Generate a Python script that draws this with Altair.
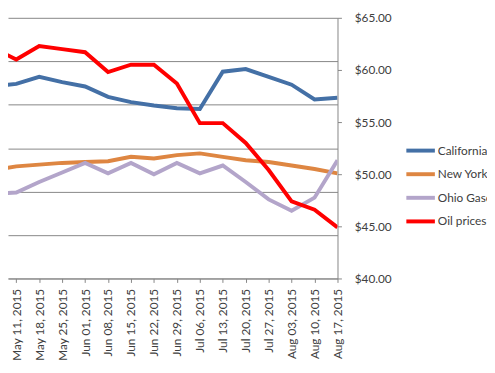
import altair as alt
import pandas as pd

# ---- data ----
dates = ["2015-05-04", "2015-05-11", "2015-05-18", "2015-05-25", "2015-06-01",
         "2015-06-08", "2015-06-15", "2015-06-22", "2015-06-29", "2015-07-06",
         "2015-07-13", "2015-07-20", "2015-07-27", "2015-08-03", "2015-08-10",
         "2015-08-17"]
series_names = ["California", "New York", "Ohio Gasoline", "Oil prices"]
california = [3.71, 3.74, 3.82, 3.76, 3.71, 3.59, 3.53, 3.49, 3.46, 3.45,
              3.88, 3.91, 3.82, 3.73, 3.56, 3.58]
new_york = [2.75, 2.79, 2.81, 2.83, 2.84, 2.85, 2.90, 2.88, 2.92, 2.94,
            2.90, 2.86, 2.84, 2.80, 2.76, 2.71]
ohio = [2.47, 2.49, 2.61, 2.72, 2.83, 2.71, 2.83, 2.70, 2.83, 2.71,
        2.80, 2.61, 2.41, 2.28, 2.43, 2.86]
oil = [62.1, 61.0, 62.3, 62.0, 61.7, 59.8, 60.5, 60.5, 58.7, 54.9,
       54.9, 53.0, 50.4, 47.4, 46.6, 44.9]
gas_ticks = [1.5, 2.0, 2.5, 3.0, 3.5, 4.0, 4.5]
oil_ticks = [40, 45, 50, 55, 60, 65]

# ---- tables ----
stamps = [d + "T00:00:00" for d in dates]
gas_df = pd.DataFrame({
    "date": stamps * 3,
    "series": [series_names[0]] * len(dates) + [series_names[1]] * len(dates)
              + [series_names[2]] * len(dates),
    "price": california + new_york + ohio,
})
oil_df = pd.DataFrame({"date": stamps, "series": series_names[3], "price": oil})
legend_df = pd.DataFrame({"series": series_names})


def dt(s):
    y, m, d = (int(v) for v in s.split("-"))
    return alt.DateTime(year=y, month=m, date=d)


GRID = "#868686"
TEXT = "#404040"
FONT = "Lato"

color = alt.Color("series:N", legend=None,
                  scale=alt.Scale(domain=series_names,
                                  range=["#4470A6", "#DE8642", "#B3A5CA", "#FF0000"]))
width = alt.StrokeWidth("series:N", legend=None,
                        scale=alt.Scale(domain=series_names, range=[4, 4, 4, 8]))

x = alt.X("date:T", title=None,
          scale=alt.Scale(domain=[alt.DateTime(year=2015, month=5, date=8, hours=11, minutes=30),
                                  dt(dates[-1])]),
          axis=alt.Axis(values=[dt(d) for d in dates[1:]], format="%b %d, %Y",
                        labelAngle=270, labelAlign="right", labelBaseline="middle",
                        labelPadding=6, tickSize=4, grid=False,
                        domainColor=GRID, tickColor=GRID))

gas = alt.Chart(gas_df).mark_line(clip=True).encode(
    x=x,
    y=alt.Y("price:Q", title=None,
            scale=alt.Scale(domain=[gas_ticks[0], gas_ticks[-1]], nice=False, zero=False),
            axis=alt.Axis(orient="left", values=gas_ticks, grid=True, gridColor=GRID,
                          gridWidth=1, labels=False, ticks=False, domain=False)),
    color=color,
    strokeWidth=width,
)

oil_line = alt.Chart(oil_df).mark_line(clip=True).encode(
    x=x,
    y=alt.Y("price:Q", title=None,
            scale=alt.Scale(domain=[oil_ticks[0], oil_ticks[-1]], nice=False, zero=False),
            axis=alt.Axis(orient="right", values=oil_ticks, format="$.2f", grid=False,
                          tickSize=4, labelPadding=13, domainColor=GRID, tickColor=GRID)),
    color=color,
    strokeWidth=width,
)

legend_y = alt.Y("series:N", axis=None,
                 scale=alt.Scale(type="point", domain=series_names, range=[135, 207], padding=0))

legend_lines = alt.Chart(legend_df).mark_rule().encode(
    x=alt.value(405), x2=alt.value(434), y=legend_y, color=color, strokeWidth=width,
)
legend_text = alt.Chart(legend_df).mark_text(
    align="left", baseline="middle", font=FONT, fontSize=12, color=TEXT
).encode(x=alt.value(437), y=legend_y, text="series:N")

chart = alt.layer(gas, oil_line, legend_lines, legend_text).resolve_scale(
    y="independent"
).properties(
    width=335, height=265,
    padding={"left": 0, "top": 7, "right": 152, "bottom": 85},
    autosize=alt.AutoSizeParams(type="none"),
).configure_axis(
    labelFont=FONT, labelFontSize=12, labelColor=TEXT,
).configure_view(stroke=None)

chart.save("out.html", embed_options={"renderer": "svg", "actions": False})
